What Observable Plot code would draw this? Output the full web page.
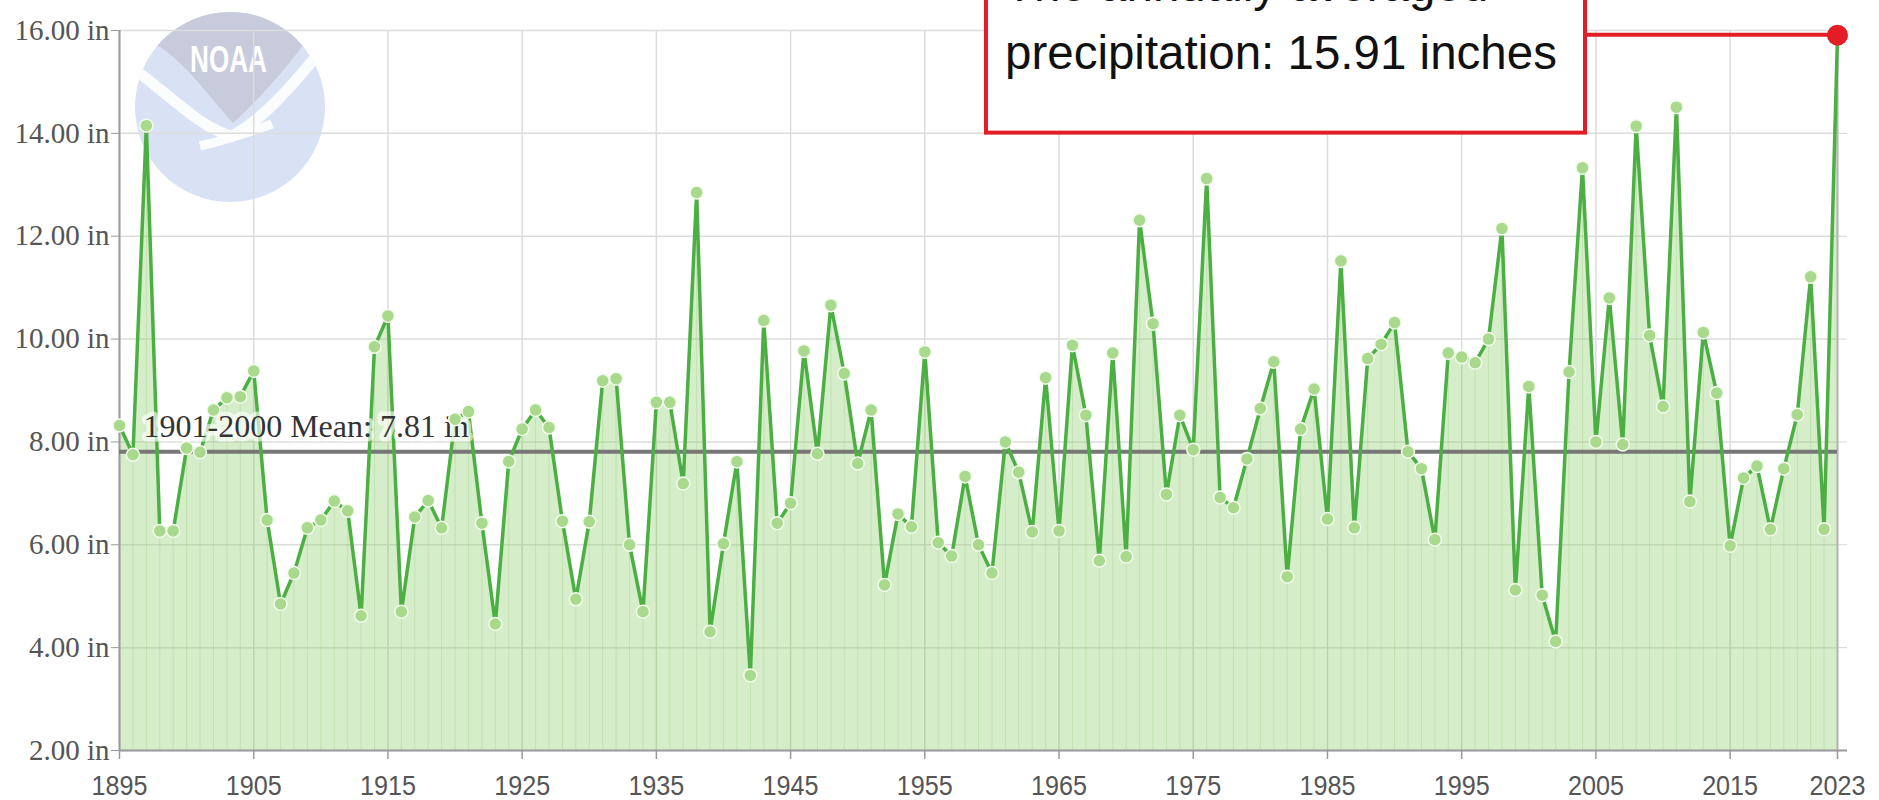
<!DOCTYPE html>
<html>
<head>
<meta charset="utf-8">
<script src="https://cdn.jsdelivr.net/npm/d3@7"></script>
<script src="https://cdn.jsdelivr.net/npm/@observablehq/plot@0.6"></script>
<style>
  html, body { margin: 0; padding: 0; background: #fff; overflow: hidden; }
  #chart svg { display: block; }
</style>
</head>
<body>
<div id="chart"></div>
<script>
// ---- data ----
const years = d3.range(1895, 2024);
const precip = [
  8.32, 7.75, 14.15, 6.27, 6.27, 7.88, 7.80, 8.62, 8.86, 8.88,   // 1895-1904
  9.38, 6.48, 4.85, 5.45, 6.33, 6.48, 6.85, 6.66, 4.62, 9.85,    // 1905-1914
  10.45, 4.70, 6.54, 6.86, 6.33, 8.44, 8.59, 6.42, 4.46, 7.62,   // 1915-1924
  8.25, 8.62, 8.28, 6.46, 4.94, 6.45, 9.19, 9.23, 6.00, 4.70,    // 1925-1934
  8.77, 8.77, 7.19, 12.85, 4.31, 6.02, 7.62, 3.46, 10.36, 6.42,  // 1935-1944
  6.81, 9.77, 7.77, 10.66, 9.33, 7.58, 8.62, 5.22, 6.60, 6.35,   // 1945-1954
  9.75, 6.04, 5.78, 7.33, 6.00, 5.45, 8.00, 7.41, 6.25, 9.25,    // 1955-1964
  6.27, 9.88, 8.52, 5.69, 9.73, 5.77, 12.31, 10.30, 6.98, 8.52,  // 1965-1974
  7.85, 13.12, 6.92, 6.72, 7.67, 8.65, 9.56, 5.38, 8.25, 9.03,   // 1975-1984
  6.50, 11.52, 6.33, 9.62, 9.90, 10.32, 7.81, 7.48, 6.10, 9.73,  // 1985-1994
  9.65, 9.54, 10.00, 12.15, 5.12, 9.08, 5.02, 4.12, 9.36, 13.33, // 1995-2004
  8.00, 10.80, 7.95, 14.14, 10.07, 8.69, 14.51, 6.84, 10.13, 8.95, // 2005-2014
  5.98, 7.30, 7.53, 6.30, 7.48, 8.53, 11.21, 6.30, 15.91          // 2015-2023
];
const xTicks = [1895, 1905, 1915, 1925, 1935, 1945, 1955, 1965, 1975, 1985, 1995, 2005, 2015, 2023];
const yTicks = [2, 4, 6, 8, 10, 12, 14, 16];
const meanValue = 7.81;
const meanLabel = "1901-2000 Mean: 7.81 in";
const recordYear = 2023;
const recordValue = 15.91;
const annotationLines = ["The annually averaged", "precipitation: 15.91 inches"];

const data = years.map((year, i) => ({year, value: precip[i]}));
const regular = data.filter(d => d.year !== recordYear);
const record = data.filter(d => d.year === recordYear);
const yMin = yTicks[0];
const firstYear = years[0];

const serif = "'Liberation Serif', 'DejaVu Serif', serif";
const narrow = "'Liberation Sans Narrow', 'Liberation Sans', sans-serif";

const plot = Plot.plot({
  width: 1879,
  height: 800,
  marginLeft: 119,
  marginRight: 42,
  marginTop: 30,
  marginBottom: 50,
  style: {background: "transparent", overflow: "visible"},
  x: {domain: [1895, 2023]},
  y: {domain: [2, 16]},
  marks: [
    Plot.gridX(xTicks, {stroke: "#dcdcdc", strokeOpacity: 1, strokeWidth: 1.5}),
    Plot.gridY(yTicks, {stroke: "#dcdcdc", strokeOpacity: 1, strokeWidth: 1.5}),
    Plot.axisY(yTicks, {anchor: "right", tickSize: 9, tickFormat: () => "", stroke: "#d6d6d6", label: null}),
    Plot.axisY([yMin], {anchor: "right", tickSize: 9, tickFormat: () => "", stroke: "#9a9a9a", strokeWidth: 2, label: null}),
    Plot.areaY(data, {x: "year", y1: yMin, y2: "value", fill: "#8fcf6f", fillOpacity: 0.37}),
    Plot.ruleX(data, {x: "year", y1: yMin, y2: "value", stroke: "#a9d596", strokeOpacity: 0.45, strokeWidth: 1}),
    Plot.ruleX([firstYear], {stroke: "#9a9a9a", strokeWidth: 2}),
    Plot.ruleX([recordYear], {stroke: "#b5b5b5", strokeWidth: 2}),
    Plot.ruleY([yMin], {stroke: "#9a9a9a", strokeWidth: 2}),
    Plot.axisY(yTicks, {
      anchor: "left", tickSize: 8, tickPadding: 2, label: null,
      tickFormat: d => d.toFixed(2) + " in",
      fontSize: 29, fontFamily: serif, fill: "#555", stroke: "#999"
    }),
    Plot.axisX(xTicks, {
      anchor: "bottom", tickSize: 9, tickPadding: 16, label: null,
      tickFormat: d => String(d), ariaLabel: "x-axis",
      fontSize: 28, fontFamily: narrow, fill: "#555", stroke: "#999", strokeWidth: 1.5
    }),
    Plot.ruleY([meanValue], {stroke: "#777", strokeWidth: 4}),
    Plot.line(data, {x: "year", y: "value", stroke: "#4caf43", strokeWidth: 3.5}),
    Plot.text([meanValue], {
      x: firstYear, y: d => d, text: () => meanLabel, textAnchor: "start", lineAnchor: "bottom",
      dx: 24, dy: -15, fontSize: 32, fontFamily: serif, fill: "#333",
      stroke: "white", strokeOpacity: 0.65, strokeWidth: 9
    }),
    Plot.dot(regular, {x: "year", y: "value", r: 6.5, fill: "#a8d98c", stroke: "#f2fbec", strokeWidth: 1.5}),
    Plot.dot(record, {x: "year", y: "value", r: 10.5, fill: "#e31d25"})
  ]
});

document.getElementById("chart").appendChild(plot);

// condensed year labels like the reference
plot.querySelectorAll("g[aria-label='x-axis tick label'] text, g[aria-label='x-axis'] text").forEach(t => {
  t.setAttribute("textLength", 56);
  t.setAttribute("lengthAdjust", "spacingAndGlyphs");
});

// ---- decorations (NOAA watermark behind, annotation box on top) ----
const svg = d3.select(plot);

const logo = d3.create("svg:g");
const defs = logo.append("defs");
defs.append("clipPath").attr("id", "logoClip")
  .append("circle").attr("cx", 230).attr("cy", 107).attr("r", 95);
logo.append("circle").attr("cx", 230).attr("cy", 107).attr("r", 95).attr("fill", "#d8e2f4");
const lg = logo.append("g").attr("clip-path", "url(#logoClip)");
lg.append("path")
  .attr("d", "M100,0 L360,0 L360,45 L303,45 C285,70 258,100 233,123 C212,100 185,62 157,45 L100,45 Z")
  .attr("fill", "#c8cbdc");
lg.append("path")
  .attr("d", "M135,70 C170,95 200,128 232,136 C262,120 290,88 320,52")
  .attr("fill", "none").attr("stroke", "#fff").attr("stroke-width", 11).attr("opacity", 0.9);
lg.append("path")
  .attr("d", "M200,146 C225,140 250,132 272,124")
  .attr("fill", "none").attr("stroke", "#fff").attr("stroke-width", 9).attr("opacity", 0.9);
logo.append("text")
  .attr("x", 190).attr("y", 72)
  .attr("textLength", 77).attr("lengthAdjust", "spacingAndGlyphs")
  .attr("font-family", narrow).attr("font-weight", "bold").attr("font-size", 37)
  .attr("fill", "#fff").attr("text-anchor", "start")
  .text("NOAA");
plot.insertBefore(logo.node(), plot.querySelector("g"));

const sx = plot.scale("x"), sy = plot.scale("y");
const px = sx.apply(recordYear), py = sy.apply(recordValue);
const boxRight = px - 252, boxWidth = 599, boxLeft = boxRight - boxWidth, boxBottom = py + 98;
const ann = svg.append("g");
ann.append("line")
  .attr("x1", boxRight).attr("x2", px - 4).attr("y1", py).attr("y2", py)
  .attr("stroke", "#e31d25").attr("stroke-width", 4);
ann.append("rect")
  .attr("x", boxLeft).attr("y", -100).attr("width", boxWidth).attr("height", boxBottom + 100)
  .attr("fill", "#fff").attr("stroke", "#e31d25").attr("stroke-width", 4);
annotationLines.forEach((t, i) => {
  ann.append("text")
    .attr("x", boxLeft + 19).attr("y", py + 34 - (annotationLines.length - 1 - i) * 68)
    .attr("text-anchor", "start")
    .attr("font-family", "'Liberation Sans', Arial, sans-serif").attr("font-size", 47.5)
    .attr("fill", "#111").text(t);
});
// keep the record dot above the connector
const dots = plot.querySelectorAll("g[aria-label='dot']");
if (dots.length) plot.appendChild(dots[dots.length - 1]);
</script>
</body>
</html>
